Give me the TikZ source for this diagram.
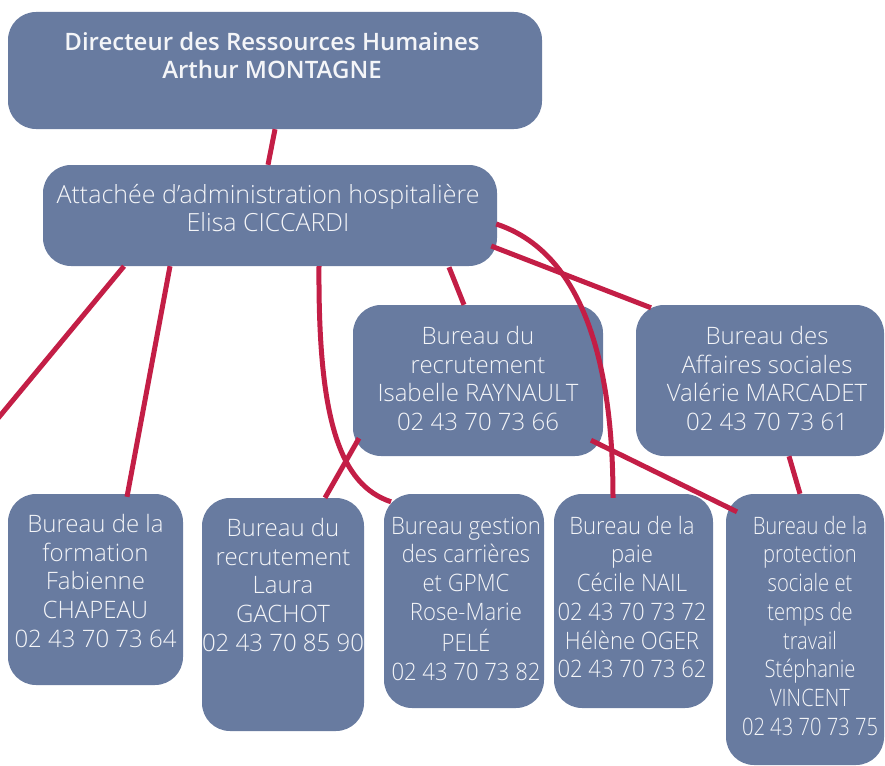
\documentclass[tikz,border=0pt]{standalone}
\usepackage{fontspec}
\setmainfont{Open Sans Light}
\IfFontExistsTF{Open Sans Semibold}
  {\newfontfamily\headfont{Open Sans Semibold}\newcommand\headweight{}}
  {\IfFontExistsTF{Open Sans SemiBold}
     {\newfontfamily\headfont{Open Sans SemiBold}\newcommand\headweight{}}
     {\newfontfamily\headfont{Open Sans}\newcommand\headweight{\bfseries}}}
\usepackage{graphicx}
\usetikzlibrary{calc}
\definecolor{boxblue}{HTML}{687BA0}
\definecolor{linkred}{HTML}{C31E46}
\definecolor{paper}{HTML}{F4F5F8}
\begin{document}
\begin{tikzpicture}[x=1pt,y=-1pt,
  panel/.style={fill=boxblue, draw=none, rounded corners=28pt, inner sep=0pt},
  txt/.style={text=paper, align=center, inner sep=0pt, anchor=north,
              font=\fontsize{24}{28.7}\selectfont},
  link/.style={draw=linkred, line width=5pt}]
\useasboundingbox (0,0) rectangle (885,765);
\clip (0,0) rectangle (885,765);

% boxes
\node[panel, minimum width=534pt, minimum height=117pt] (dir)   at (275,70.5)  {};
\node[panel, minimum width=454pt, minimum height=101pt] (att)   at (270,215.5) {};
\node[panel, minimum width=250pt, minimum height=151pt] (isa)   at (478,380.5) {};
\node[panel, minimum width=248pt, minimum height=151pt] (aff)   at (760,380.5) {};
\node[panel, minimum width=175pt, minimum height=191pt] (form)  at (95.5,589.5) {};
\node[panel, minimum width=162pt, minimum height=233pt] (laura) at (283,614.5) {};
\node[panel, minimum width=160pt, minimum height=214pt] (gest)  at (464,601)   {};
\node[panel, minimum width=159pt, minimum height=214pt] (paie)  at (633.5,601) {};
\node[panel, minimum width=158pt, minimum height=271pt] (prot)  at (805,629.5) {};

% texts
\node[txt, font=\fontsize{24}{28}\selectfont\headfont\headweight] (tdir) at (272,32)
  {Directeur des Ressources Humaines\\Arthur MONTAGNE};
\node[txt, font=\fontsize{25}{28}\selectfont] (tatt) at (268,184)
  {Attachée d’administration hospitalière\\Elisa CICCARDI};
\node[txt] (tisa) at (478,326)
  {Bureau du\\recrutement\\Isabelle RAYNAULT\\02 43 70 73 66};
\node[txt] (taff) at (767,326)
  {Bureau des\\Affaires sociales\\Valérie MARCADET\\02 43 70 73 61};
\node[txt] (tform) at (95.5,514)
  {Bureau de la\\formation\\Fabienne\\CHAPEAU\\02 43 70 73 64};
\node[txt] (tlaura) at (283,518)
  {Bureau du\\recrutement\\Laura\\GACHOT\\02 43 70 85 90};
\node[txt] (tgest) at (466,514)
  {\scalebox{0.92}[1]{\begin{tabular}{@{}c@{}}Bureau gestion\\des carrières\\et GPMC\\Rose-Marie\\PELÉ\\02 43 70 73 82\end{tabular}}};
\node[txt] (tpaie) at (632,514)
  {\scalebox{0.92}[1]{\begin{tabular}{@{}c@{}}Bureau de la\\paie\\Cécile NAIL\\02 43 70 73 72\\Hélène OGER\\02 43 70 73 62\end{tabular}}};
\node[txt] (tprot) at (810,514)
  {\scalebox{0.84}[1]{\begin{tabular}{@{}c@{}}Bureau de la\\protection\\sociale et\\temps de\\travail\\Stéphanie\\VINCENT\\02 43 70 73 75\end{tabular}}};

% connectors
\coordinate (offleft) at (-20,440);
\draw[link] (dir.south) -- ($(att.north)+(-2,0)$);
\draw[link] ($(att.south)+(-146,0)$) -- (offleft);
\draw[link] ($(att.south)+(-100,0)$) -- ($(form.north)+(31.5,3)$);
\draw[link] ($(att.south)+(49,0)$) .. controls ($(att.south)+(48,154)$) and ($(gest.north)+(-124,-9)$) .. ($(gest.north)+(-73,8)$);
\draw[link] ($(att.south)+(179,1)$) -- ($(isa.north)+(-14,0)$);
\draw[link] ($(att.east)+(-6,30.5)$) -- ($(aff.north)+(-109,3)$);
\draw[link] ($(att.east)+(-1,8.5)$) .. controls ($(att.east)+(93,39.5)$) and ($(paie.north)+(-20.5,-114)$) .. ($(paie.north)+(-20.5,4)$);
\draw[link] ($(isa.south)+(-119,-18)$) -- ($(laura.north)+(42,0)$);
\draw[link] ($(isa.south)+(113,-16)$) -- ($(prot.north)+(-68,18)$);
\draw[link] ($(aff.south)+(29,0)$) -- ($(prot.north)+(-5,0)$);
\end{tikzpicture}
\end{document}
